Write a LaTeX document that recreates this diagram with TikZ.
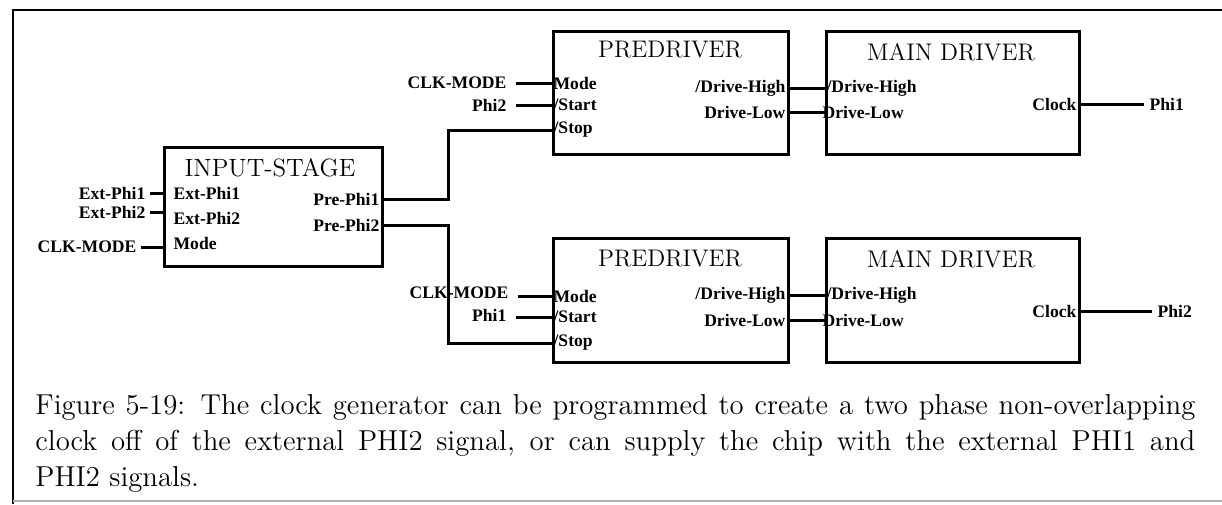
\documentclass[tikz,border=0pt]{standalone}
\usepackage{fontspec}
\usepackage{tikz}
\usetikzlibrary{positioning}
\newfontfamily\pinfont{Liberation Serif}

\begin{document}
\begin{tikzpicture}[x=0.5pt, y=-0.5pt,
  blk/.style={draw, line width=1.5pt, inner sep=0pt, anchor=north west},
  wire/.style={line width=1.5pt},
  frm/.style={line width=1.4pt},
  ttl/.style={font=\fontsize{12}{14}\selectfont, inner sep=0pt},
  pin/.style={font=\pinfont\fontsize{8.8}{10}\selectfont\bfseries, inner sep=0.6pt},
  captxt/.style={font=\fontsize{14.4}{18}\selectfont, text width=580pt, align=justify, inner sep=0pt, anchor=north west}
]
  \useasboundingbox (0,0) rectangle (1222,504);
  \draw[frm] (1222,10) -- (13,10) -- (13,504);
  \draw[gray!60, line width=0.8pt] (13,501) -- (1222,501);

  % blocks
  \node[blk, minimum width=109pt, minimum height=59.5pt] (inp) at (163,146) {};
  \node[blk, minimum width=117.5pt, minimum height=61.5pt] (pdA) at (552,30) {};
  \node[blk, minimum width=126.5pt, minimum height=61.5pt] (mdA) at (825,30) {};
  \node[blk, minimum width=117.5pt, minimum height=62pt] (pdB) at (552,237) {};
  \node[blk, minimum width=126.5pt, minimum height=62pt] (mdB) at (825,237) {};

  \node[ttl, font=\fontsize{12.5}{14}\selectfont] (inpT) at (270,168) {INPUT-STAGE};
  \node[ttl] (pdAT) at (670,50) {PREDRIVER};
  \node[ttl] (mdAT) at (951,52) {MAIN DRIVER};
  \node[ttl] (pdBT) at (670,259) {PREDRIVER};
  \node[ttl] (mdBT) at (951,259) {MAIN DRIVER};

  % input stage
  \node[pin, anchor=west] (inpE1) at (172,193) {Ext-Phi1};
  \node[pin, anchor=west] (inpE2) at (172,218) {Ext-Phi2};
  \node[pin, anchor=west] (inpM) at (172,243) {Mode};
  \node[pin, anchor=east] (inpP1) at (381,199) {Pre-Phi1};
  \node[pin, anchor=east] (inpP2) at (381,225) {Pre-Phi2};
  \node[pin, anchor=east] (xE1) at (147,193) {Ext-Phi1};
  \node[pin, anchor=east] (xE2) at (147,212) {Ext-Phi2};
  \node[pin, anchor=east] (xM) at (138,247) {CLK-MODE};
  \draw[wire] ([xshift=1.5pt]xE1.east) -- (inp.west |- xE1);
  \draw[wire] ([xshift=1.5pt]xE2.east) -- (inp.west |- xE2);
  \draw[wire] ([xshift=1.5pt]xM.east) -- (inp.west |- xM);

  % upper predriver and main driver
  \node[pin, anchor=west] (pdAmd) at (552,83) {Mode};
  \node[pin, anchor=west] (pdAst) at (552,105) {/Start};
  \node[pin, anchor=west] (pdAsp) at (552,130) {/Stop};
  \node[pin, anchor=east] (pdAdh) at (787,88) {/Drive-High};
  \node[pin, anchor=east] (pdAdl) at (787,112) {Drive-Low};
  \node[pin, anchor=west] (mdAdh) at (825,88) {/Drive-High};
  \node[pin, anchor=west] (mdAdl) at (821,112) {Drive-Low};
  \node[pin, anchor=east] (mdAck) at (1078,104) {Clock};
  \node[pin, anchor=west] (oA) at (1148,104) {Phi1};
  \node[pin, anchor=east] (xAm) at (508,83) {CLK-MODE};
  \node[pin, anchor=east] (xAs) at (508,105) {Phi2};
  \draw[wire] ([xshift=4pt]xAm.east) -- (pdAmd.west);
  \draw[wire] ([xshift=4pt]xAs.east) -- (pdAst.west);
  \draw[wire] (pdAdh.east) -- (mdA.west |- mdAdh);
  \draw[wire] (pdAdl.east) -- (mdA.west |- mdAdl);
  \draw[wire] (mdA.east |- mdAck) -- ([xshift=-2pt]oA.west);

  % lower predriver and main driver
  \node[pin, anchor=west] (pdBmd) at (552,296) {Mode};
  \node[pin, anchor=west] (pdBst) at (552,317) {/Start};
  \node[pin, anchor=west] (pdBsp) at (552,343) {/Stop};
  \node[pin, anchor=east] (pdBdh) at (787,295) {/Drive-High};
  \node[pin, anchor=east] (pdBdl) at (787,320) {Drive-Low};
  \node[pin, anchor=west] (mdBdh) at (825,295) {/Drive-High};
  \node[pin, anchor=west] (mdBdl) at (821,320) {Drive-Low};
  \node[pin, anchor=east] (mdBck) at (1078,311) {Clock};
  \node[pin, anchor=west] (oB) at (1156,311) {Phi2};
  \node[pin, anchor=east] (xBm) at (510,293) {CLK-MODE};
  \node[pin, anchor=east] (xBs) at (508,315) {Phi1};
  \draw[wire] ([xshift=4pt]xBm.east |- pdBmd) -- (pdBmd.west);
  \draw[wire] ([xshift=4pt]xBs.east |- pdBst) -- (pdBst.west);
  \draw[wire] (pdBdh.east) -- (mdB.west |- mdBdh);
  \draw[wire] (pdBdl.east) -- (mdB.west |- mdBdl);
  \draw[wire] (mdB.east |- mdBck) -- ([xshift=-2pt]oB.west);

  % pre-phase lines
  \coordinate (jn) at (448,0);
  \draw[wire] (inpP1.east) -| (jn |- pdAsp) -- (pdAsp.west);
  \draw[wire] (inpP2.east) -| (jn |- pdBsp) -- (pdBsp.west);

  \node[captxt] (cpt) at (35,394) {Figure 5-19: The clock generator can be programmed to create a two phase non-overlapping\linebreak
    clock off of the external PHI2 signal, or can supply the chip with the external PHI1 and\linebreak
    PHI2 signals.};
\end{tikzpicture}
\end{document}
